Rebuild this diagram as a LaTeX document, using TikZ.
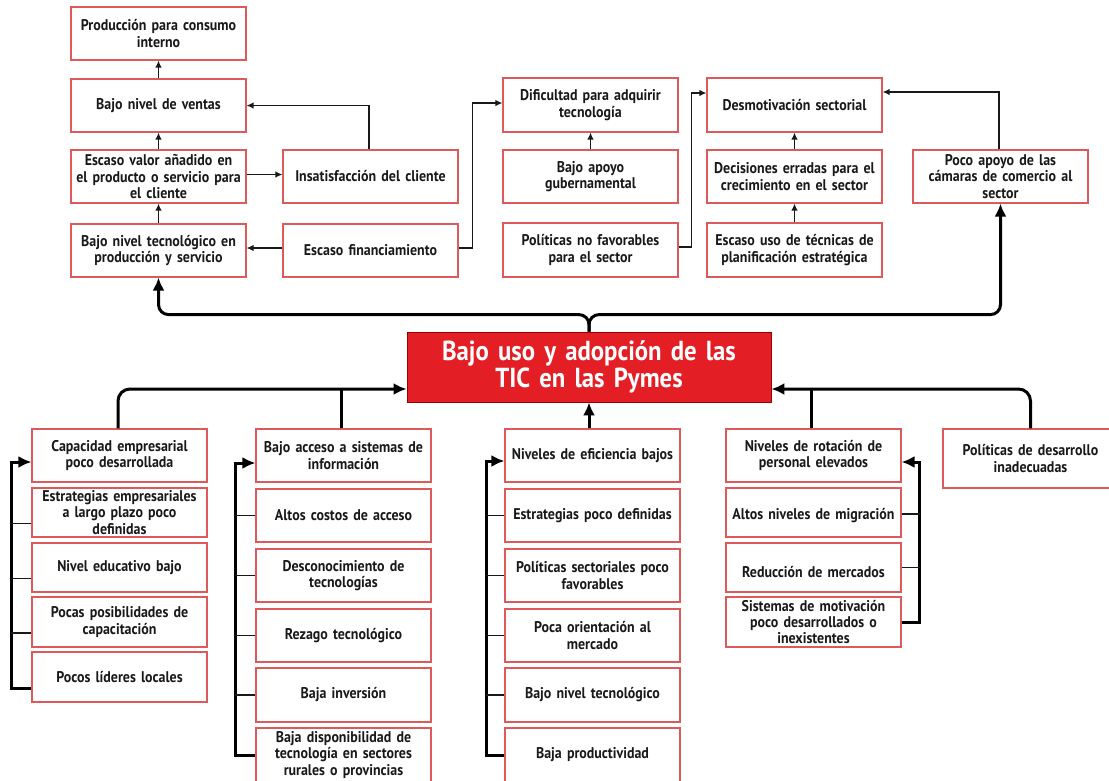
\documentclass[tikz,border=0pt]{standalone}
\usepackage{fontspec}
\setmainfont{PT Sans}[FakeStretch=0.9]
\usetikzlibrary{arrows.meta}
\definecolor{boxred}{RGB}{222,90,90}
\definecolor{mainred}{RGB}{228,30,37}
\definecolor{ink}{RGB}{25,25,25}
\begin{document}
\begin{tikzpicture}[x=1pt,y=-1pt,
  box/.style={draw=boxred, line width=1.1pt, fill=white, minimum width=175pt,
    minimum height=53pt, text width=173pt, align=center, inner sep=0pt,
    font=\fontsize{15.5}{16.3}\selectfont\bfseries, text=ink},
  mainbox/.style={draw=red!60!black, line width=0.8pt, fill=mainred, minimum width=364pt,
    minimum height=70pt, text width=355pt, align=center, inner sep=0pt,
    font=\fontsize{27.5}{27}\selectfont\bfseries, text=white},
  ln/.style={line width=1.3pt, draw=ink},
  lnarr/.style={ln, -{Latex[length=7pt,width=6.5pt]}},
  bl/.style={line width=3pt, draw=black},
  blarr/.style={bl, -{Latex[length=13pt,width=12pt]}},
]
\useasboundingbox[fill=white] (0,0) rectangle (1109,780);

% ---------- top area ----------
\node[box] (prod) at (158.5,33.5) {Producción para consumo\\interno};
\node[box] (ventas) at (158.5,105.5) {Bajo nivel de ventas};
\node[box] (valor) at (158.5,176.5) {Escaso valor añadido en\\el producto o servicio para\\el cliente};
\node[box] (tecno) at (158.5,250.5) {Bajo nivel tecnológico en\\producción y servicio};
\node[box] (insat) at (370.5,176.5) {Insatisfacción del cliente};
\node[box] (financ) at (370.5,250.5) {Escaso financiamiento};
\node[box, minimum height=54pt] (dific) at (590.5,105) {Dificultad para adquirir\\tecnología};
\node[box] (apoyo) at (590.5,176.5) {Bajo apoyo\\gubernamental};
\node[box, minimum height=54pt] (polit) at (590.5,250) {Políticas no favorables\\para el sector};
\node[box, minimum height=54pt] (desmot) at (794.5,105) {Desmotivación sectorial};
\node[box] (decis) at (794.5,176.5) {Decisiones erradas para el\\crecimiento en el sector};
\node[box, minimum height=54pt] (escuso) at (794.5,250) {Escaso uso de técnicas de\\planificación estratégica};
\node[box] (camaras) at (1000.5,176.5) {Poco apoyo de las\\cámaras de comercio al\\sector};

% ---------- central box ----------
\node[mainbox] (main) at (589,367) {Bajo uso y adopción de las\\TIC en las Pymes};

% ---------- bottom column A ----------
\node[box] (capac) at (119.5,455.5) {Capacidad empresarial\\poco desarrollada};
\node[box, minimum height=49pt] (estrat) at (119.5,512.5) {Estrategias empresariales\\a largo plazo poco\\definidas};
\node[box, minimum height=49pt] (educ) at (119.5,567.5) {Nivel educativo bajo};
\node[box, minimum height=50pt] (posib) at (119.5,622) {Pocas posibilidades de\\capacitación};
\node[box, minimum height=50pt] (lideres) at (119.5,677) {Pocos líderes locales};

% ---------- bottom column B ----------
\node[box] (acceso) at (343.5,455.5) {Bajo acceso a sistemas de\\información};
\node[box] (costos) at (343.5,515.5) {Altos costos de acceso};
\node[box] (descon) at (343.5,575.5) {Desconocimiento de\\tecnologías};
\node[box] (rezago) at (343.5,635.5) {Rezago tecnológico};
\node[box, minimum height=54pt] (inver) at (343.5,695) {Baja inversión};
\node[box, minimum height=54pt] (dispon) at (343.5,755) {Baja disponibilidad de\\tecnología en sectores\\rurales o provincias};

% ---------- bottom column C ----------
\node[box] (efic) at (592.5,455.5) {Niveles de eficiencia bajos};
\node[box] (estrpoco) at (592.5,515.5) {Estrategias poco definidas};
\node[box] (polsect) at (592.5,575.5) {Políticas sectoriales poco\\favorables};
\node[box] (orient) at (592.5,635.5) {Poca orientación al\\mercado};
\node[box, minimum height=54pt] (bajonivel) at (592.5,695) {Bajo nivel tecnológico};
\node[box, minimum height=54pt] (productiv) at (592.5,755) {Baja productividad};

% ---------- bottom column D ----------
\node[box] (rotac) at (813.5,455.5) {Niveles de rotación de\\personal elevados};
\node[box, minimum height=49pt] (migra) at (813.5,512.5) {\raisebox{-3pt}[\height][\depth]{Altos niveles de migración}};
\node[box, minimum height=49pt] (reduc) at (813.5,567.5) {\raisebox{-5pt}[\height][\depth]{Reducción de mercados}};
\node[box, minimum height=50pt] (motiv) at (813.5,622) {Sistemas de motivación\\poco desarrollados o\\inexistentes};

\node[box, minimum height=59pt] (poldes) at (1030.5,458.5) {Políticas de desarrollo\\inadecuadas};

% ---------- thin connectors, top ----------
\draw[lnarr] (ventas.north) -- (prod.south);
\draw[lnarr] (valor.north) -- (ventas.south);
\draw[lnarr] (tecno.north) -- (valor.south);
\draw[lnarr] ([yshift=2pt]valor.east) -- ([yshift=2pt]insat.west);
\draw[lnarr] ([xshift=-1.5pt]insat.north) |- (ventas.east);
\draw[lnarr] ([yshift=2.5pt]financ.west) -- ([yshift=2.5pt]tecno.east);
\draw[lnarr] ([yshift=2.5pt]financ.east) -- ++(14,0) |- ([yshift=2pt]dific.west);
\draw[lnarr] (apoyo.north) -- (dific.south);
\draw[lnarr] ([yshift=3pt]polit.east) -- ++(13,0) |- ([yshift=12pt]desmot.west);
\draw[lnarr] (escuso.north) -- (decis.south);
\draw[lnarr] (decis.north) -- (desmot.south);
\draw[lnarr] ([xshift=-1.5pt]camaras.north) |- ([yshift=13pt]desmot.east);

% ---------- thick connectors around the central box ----------
\draw[blarr, rounded corners=10pt] (main.north) -- ++(0,-17) -| (tecno.south);
\draw[blarr, rounded corners=10pt] (main.north) -- ++(0,-17) -| (camaras.south);
\draw[blarr, rounded corners=12pt] ([xshift=-1.5pt]capac.north) |- ([yshift=-22pt]main.west);
\draw[bl] ([xshift=-2pt]acceso.north) -- ++(0,-40);
\draw[blarr, rounded corners=12pt] (poldes.north) |- ([yshift=-22pt]main.east);
\draw[bl] ([xshift=-2.5pt]rotac.north) -- ++(0,-40);
\draw[blarr] (main.south |- efic.north) -- (main.south);

% ---------- bracket A ----------
\draw[blarr] ([yshift=-11pt]lideres.west) -- ++(-20,0) |- ([yshift=-6.5pt]capac.west);
\foreach \n in {estrat,educ,posib}
  \draw[ln] ([yshift=-11pt]\n.west) -- ++(-20,0);

% ---------- bracket B ----------
\draw[blarr] (dispon.west) -- ++(-20,0) |- ([yshift=-7.5pt]acceso.west);
\foreach \n in {costos,descon,rezago,inver}
  \draw[ln] (\n.west) -- ++(-20,0);

% ---------- bracket C ----------
\draw[blarr] (productiv.west) -- ++(-18,0) |- ([yshift=-5.5pt]efic.west);
\foreach \n in {estrpoco,polsect,orient,bajonivel}
  \draw[ln] (\n.west) -- ++(-18,0);

% ---------- bracket D ----------
\draw[blarr] (motiv.east) -- ++(18,0) |- ([yshift=-6.5pt]rotac.east);
\draw[ln] ([yshift=-1.5pt]migra.east) -- ++(18,0);
\draw[ln] (reduc.east) -- ++(18,0);
\end{tikzpicture}
\end{document}
